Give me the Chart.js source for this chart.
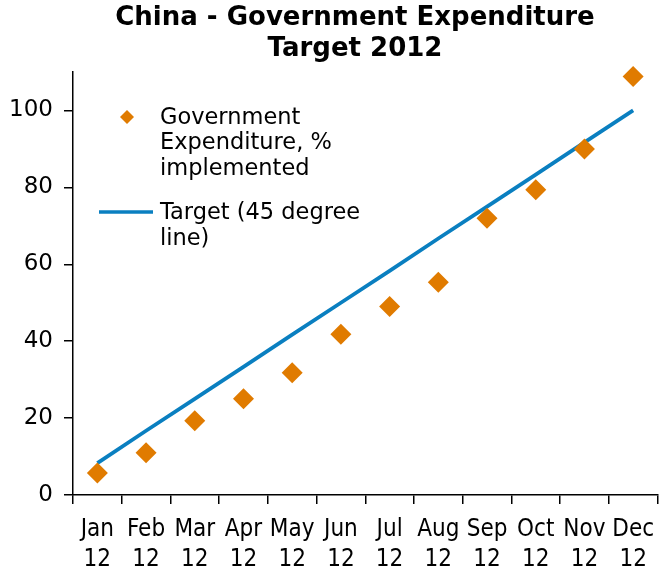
<!DOCTYPE html>
<html>
<head>
<meta charset="utf-8">
<script src="https://cdn.jsdelivr.net/npm/chart.js@4.4.0/dist/chart.umd.min.js"></script>
<style>
  html, body { margin: 0; padding: 0; background: #fff; }
  #wrap { width: 668px; height: 574px; }
</style>
</head>
<body>
<div id="wrap"><canvas id="chart"></canvas></div>
<script>
const months = ['Jan', 'Feb', 'Mar', 'Apr', 'May', 'Jun', 'Jul', 'Aug', 'Sep', 'Oct', 'Nov', 'Dec'];
const years = ['12', '12', '12', '12', '12', '12', '12', '12', '12', '12', '12', '12'];
const expenditure = [5.7, 11, 19.3, 25, 31.8, 41.8, 49, 55.3, 72, 79.4, 90, 108.8];
const target = [8.3, 16.7, 25, 33.3, 41.7, 50, 58.3, 66.7, 75, 83.3, 91.7, 100];
const yTicks = [0, 20, 40, 60, 80, 100];
const titleLines = ['China - Government Expenditure', 'Target 2012'];
const expLabel = ['Government', 'Expenditure, %', 'implemented'];
const targetLabel = ['Target (45 degree', 'line)'];

const ORANGE = '#e07b00';
const BLUE = '#0a7fc0';
const FONT = "'DejaVu Sans', Verdana, sans-serif";
const FONT_NARROW = "'DejaVu Sans Condensed', 'DejaVu Sans', sans-serif";

// title is a bit right of the canvas centre in the original, so draw it by hand
const offsetTitle = {
    id: 'offsetTitle',
    afterDraw(chart) {
        const ctx = chart.ctx;
        ctx.save();
        ctx.font = 'bold 26px ' + FONT;
        ctx.fillStyle = '#000';
        ctx.textAlign = 'center';
        ctx.textBaseline = 'middle';
        titleLines.forEach((t, i) => ctx.fillText(t, 355, 18 + i * 31));
        ctx.restore();
    }
};

// legend sits inside the plot, top-left, with wrapped labels
const insideLegend = {
    id: 'insideLegend',
    afterDraw(chart) {
        const ctx = chart.ctx;
        ctx.save();
        ctx.font = '22.5px ' + FONT;
        ctx.textBaseline = 'middle';
        // diamond marker
        ctx.fillStyle = ORANGE;
        ctx.beginPath();
        ctx.moveTo(127, 110); ctx.lineTo(134, 117); ctx.lineTo(127, 124); ctx.lineTo(120, 117);
        ctx.closePath();
        ctx.fill();
        ctx.fillStyle = '#000';
        expLabel.forEach((t, i) => ctx.fillText(t, 160, 118 + i * 25.5));
        // line sample
        ctx.strokeStyle = BLUE;
        ctx.lineWidth = 3.5;
        ctx.beginPath();
        ctx.moveTo(99, 212); ctx.lineTo(153, 212);
        ctx.stroke();
        targetLabel.forEach((t, i) => ctx.fillText(t, 160, 213 + i * 26));
        ctx.restore();
    }
};

const ctx = document.getElementById('chart').getContext('2d');
new Chart(ctx, {
    type: 'line',
    data: {
        labels: months.map((m, i) => [m, years[i]]),
        datasets: [{
            label: expLabel.join(' '),
            data: expenditure,
            showLine: false,
            pointStyle: 'rectRot',
            pointRadius: 10.5,
            pointBackgroundColor: ORANGE,
            pointBorderColor: ORANGE,
            pointBorderWidth: 0,
            clip: false,
            order: 1
        }, {
            label: targetLabel.join(' '),
            data: target,
            borderColor: BLUE,
            borderWidth: 3.8,
            pointRadius: 0,
            tension: 0,
            order: 2
        }]
    },
    options: {
        responsive: true,
        maintainAspectRatio: false,
        animation: false,
        layout: { padding: { left: 0, right: 1, top: 72, bottom: 0 } },
        plugins: {
            legend: { display: false },
            tooltip: { enabled: false },
            title: { display: false }
        },
        scales: {
            x: {
                offset: true,
                grid: { offset: true, drawOnChartArea: false, drawTicks: true, tickLength: 9, color: '#000', lineWidth: 1.5 },
                border: { color: '#000', width: 1.5 },
                ticks: { color: '#000', font: { family: FONT_NARROW, size: 24, lineHeight: 1.25 }, maxRotation: 0, autoSkip: false, padding: 11 },
                afterFit: s => { s.height = 79; }
            },
            y: {
                min: 0,
                max: 110,
                grid: { drawOnChartArea: false, tickLength: 9, color: '#000', lineWidth: 1.5 },
                border: { color: '#000', width: 1.5 },
                ticks: { color: '#000', font: { family: FONT, size: 23 }, padding: 11 },
                afterBuildTicks: s => { s.ticks = yTicks.map(v => ({ value: v })); },
                afterFit: s => { s.width = 73; }
            }
        }
    },
    plugins: [offsetTitle, insideLegend]
});
</script>
</body>
</html>
